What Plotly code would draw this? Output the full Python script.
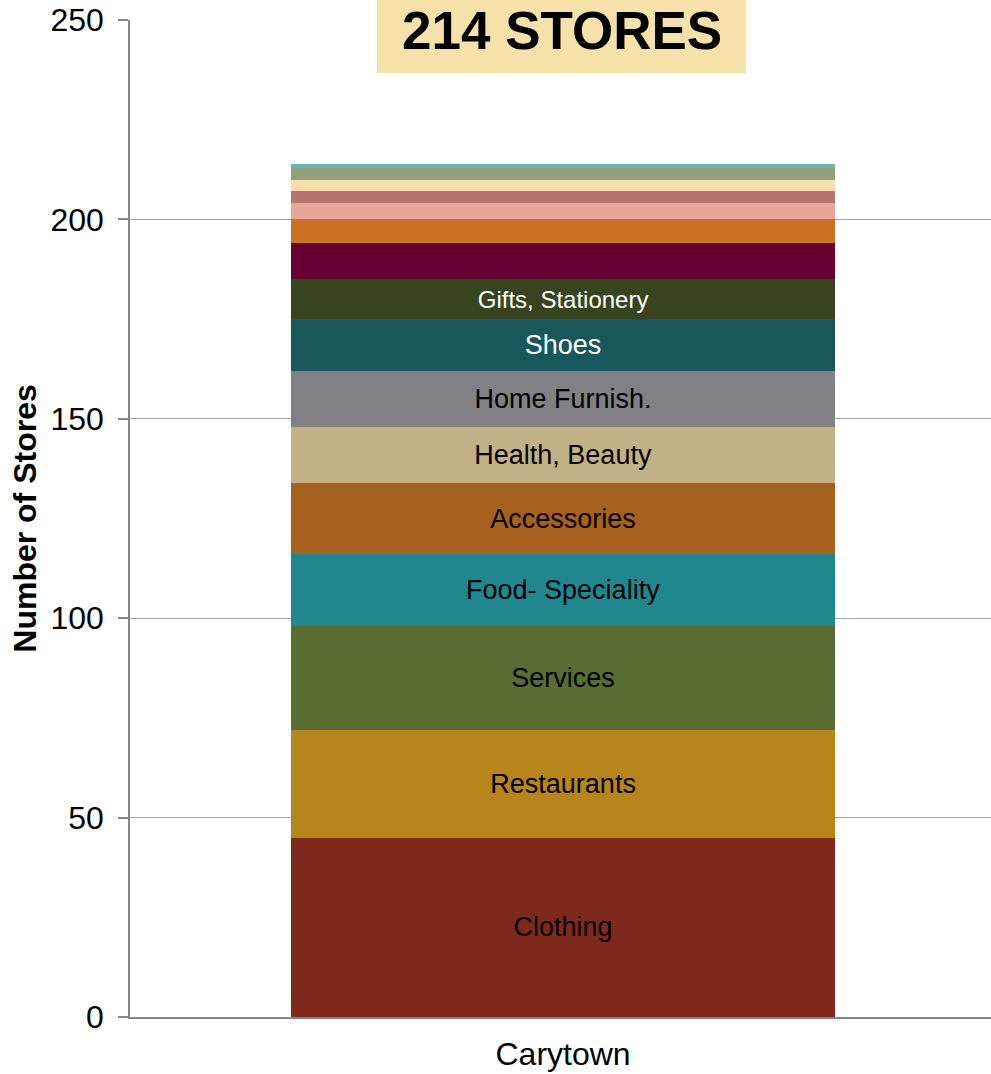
import plotly.graph_objects as go

district = ["Carytown"]
categories = ["Clothing", "Restaurants", "Services", "Food- Speciality", "Accessories",
              "Health, Beauty", "Home Furnish.", "Shoes", "Gifts, Stationery",
              "Other 1", "Other 2", "Other 3", "Other 4", "Other 5", "Other 6", "Other 7"]
counts = [45, 27, 26, 18, 18, 14, 14, 13, 10, 9, 6, 4, 3, 3, 3, 1]
show_label = [True, True, True, True, True, True, True, True, True,
              False, False, False, False, False, False, False]
colors = ["#7F291C", "#B8841C", "#586D31", "#21878F", "#A6611E", "#C2B087", "#808085",
          "#18585C", "#37441F", "#660033", "#C97322", "#E8A598", "#B67470", "#F6DFA8",
          "#91A076", "#6BB4C2"]
label_colors = ["black", "black", "black", "black", "black", "black", "black",
                "white", "white", "white", "white", "white", "white", "white", "white", "white"]
label_sizes = [27, 27, 27, 27, 27, 27, 27, 27, 24, 20, 20, 20, 20, 20, 20, 20]
total_text = "214 STORES"
y_ticks = [0, 50, 100, 150, 200, 250]

fig = go.Figure()
for name, v, c, lc, ls, sl in zip(categories, counts, colors, label_colors, label_sizes, show_label):
    fig.add_trace(go.Bar(
        x=district, y=[v], name=name,
        marker=dict(color=c, line=dict(width=0)),
        text=[name if sl else ""], textposition="inside", insidetextanchor="middle",
        textangle=0, textfont=dict(color=lc, size=ls, family="Liberation Sans, Arial"),
        width=0.632,
    ))

fig.update_layout(
    barmode="stack",
    width=991, height=1074,
    margin=dict(l=130, r=0, t=20, b=57),
    plot_bgcolor="white", paper_bgcolor="white",
    showlegend=False,
    font=dict(family="Liberation Sans, Arial", color="black"),
)
fig.update_yaxes(
    range=[0, 250], tickvals=y_ticks,
    tickfont=dict(size=32, color="black"),
    showgrid=True, gridcolor="#A6A6A6", gridwidth=1.3,
    showline=True, linecolor="#868686", linewidth=1.5,
    ticks="outside", ticklen=10, tickcolor="#868686", tickwidth=1.5,
    ticklabelstandoff=8,
    zeroline=False,
    title=dict(text="<b>Number of Stores</b>", font=dict(size=32, color="black"), standoff=4),
)
fig.update_xaxes(
    range=[-0.503, 0.497],
    tickfont=dict(size=32, color="black"),
    showline=True, linecolor="#868686", linewidth=1.5,
    ticks="", ticklabelstandoff=8,
)

fig.add_shape(type="rect", xref="paper", yref="paper",
              x0=(377 - 130) / 861, x1=(746 - 130) / 861,
              y0=(1017 - 73) / 997, y1=(1017 + 1) / 997,
              fillcolor="#F7E1AB", line=dict(width=0), layer="above")
fig.add_annotation(text="<b>" + total_text + "</b>", xref="paper", yref="paper",
                   x=(561.5 - 130) / 861, y=(1017 - 30) / 997, showarrow=False,
                   font=dict(size=53, color="black"), xanchor="center", yanchor="middle")

fig.write_html("out.html", config={"displayModeBar": False},
               post_script="document.body.style.margin='0';document.body.style.overflow='hidden';")
